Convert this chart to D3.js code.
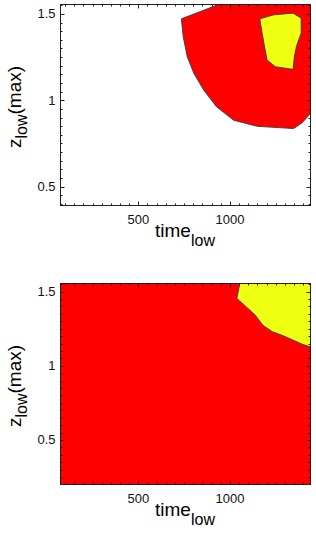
<!DOCTYPE html>
<html>
<head>
<meta charset="utf-8">
<script src="https://cdn.jsdelivr.net/npm/d3@7"></script>
<style>
  body { margin: 0; background: #fff; }
  svg { display: block; font-family: "Liberation Sans", Arial, sans-serif; }
</style>
</head>
<body>
<svg id="chart" width="316" height="534"></svg>
<script>
// Axis settings
const xDomain = [75, 1440];
const xMajorTicks = [500, 1000];
const yMajorTicks = [0.5, 1, 1.5];
const xTickLabels = ['500', '1000'];
const yTickLabels = ['0.5', '1', '1.5'];

// Top panel contours (time_low, z_low(max))
const topRedEdge = [[937, 1.555], [839, 1.514], [735, 1.472], [745, 1.369], [767, 1.2525],
  [803, 1.156], [857, 1.059], [927, 0.962], [1021, 0.884], [1149, 0.849], [1348, 0.836],
  [1394, 0.869], [1440, 0.923]];
const topYellow = [[1163, 1.472], [1239, 1.495], [1345, 1.505], [1389, 1.476], [1389, 1.389],
  [1363, 1.311], [1352, 1.2525], [1345, 1.179], [1249, 1.194], [1203, 1.233], [1189, 1.311],
  [1176, 1.389]];

// Bottom panel contour
const bottomYellowEdge = [[1054, 1.555], [1038, 1.454], [1090, 1.397], [1139, 1.341],
  [1180, 1.273], [1232, 1.230], [1292, 1.202], [1347, 1.172], [1396, 1.145], [1440, 1.127]];

const RED = '#ff0000';
const YELLOW = '#eeff11';
const EDGE = '#3a3a3a';

const svg = d3.select('#chart');

function drawPanel(cfg) {
  const x = d3.scaleLinear().domain(xDomain).range([60.5, 310.5]);
  const y = d3.scaleLinear().domain(cfg.yDomain).range([cfg.bottom, cfg.top]);
  const [x0, x1] = x.range();
  const [y0, y1] = y.range();
  const g = svg.append('g');

  const clipId = 'clip-' + cfg.id;
  g.append('clipPath').attr('id', clipId)
    .append('rect').attr('x', x0).attr('y', y1).attr('width', x1 - x0).attr('height', y0 - y1);

  const line = d3.line().x(d => x(d[0])).y(d => y(d[1]));
  const plot = g.append('g').attr('clip-path', `url(#${clipId})`);

  // fills
  if (cfg.background) {
    plot.append('rect')
      .attr('x', x(xDomain[0])).attr('y', y(cfg.yDomain[1]))
      .attr('width', x(xDomain[1]) - x(xDomain[0]))
      .attr('height', y(cfg.yDomain[0]) - y(cfg.yDomain[1]))
      .attr('fill', cfg.background);
  }
  cfg.regions.forEach(r => {
    const pts = r.corner ? r.edge.concat(r.corner) : r.edge;
    plot.append('path').attr('d', line(pts) + 'Z').attr('fill', r.fill).attr('stroke', 'none');
    plot.append('path').attr('d', line(r.edge) + (r.closed ? 'Z' : ''))
      .attr('fill', 'none').attr('stroke', EDGE).attr('stroke-width', 0.9);
  });

  // ticks (inward, all four sides)
  const ticks = g.append('g').attr('stroke', '#222').attr('stroke-width', 1);
  const xMinor = d3.range(100, xDomain[1] + 1, 50).filter(v => !xMajorTicks.includes(v));
  const yMinor = d3.range(0.05, 1.56, 0.05).map(v => +v.toFixed(2))
    .filter(v => v > cfg.yDomain[0] && v < cfg.yDomain[1] && !yMajorTicks.includes(v));
  const xt = (v, len) => {
    const px = Math.round(x(v)) + 0.5;
    ticks.append('line').attr('x1', px).attr('x2', px).attr('y1', y0).attr('y2', y0 - len);
    ticks.append('line').attr('x1', px).attr('x2', px).attr('y1', y1).attr('y2', y1 + len);
  };
  const yt = (v, len) => {
    const py = Math.round(y(v)) + 0.5;
    ticks.append('line').attr('y1', py).attr('y2', py).attr('x1', x0).attr('x2', x0 + len);
    ticks.append('line').attr('y1', py).attr('y2', py).attr('x1', x1).attr('x2', x1 - len);
  };
  xMinor.forEach(v => xt(v, 2));
  xMajorTicks.forEach(v => xt(v, 4));
  yMinor.forEach(v => yt(v, 2));
  yMajorTicks.forEach(v => yt(v, 4));

  // frame
  g.append('rect').attr('x', x0).attr('y', y1).attr('width', x1 - x0).attr('height', y0 - y1)
    .attr('fill', 'none').attr('stroke', '#222').attr('stroke-width', 1);

  // tick labels
  g.selectAll('.xl').data(xMajorTicks).join('text')
    .attr('x', d => x(d)).attr('y', y0 + 18.5)
    .attr('text-anchor', 'middle').attr('font-size', 13).attr('fill', '#111')
    .text((d, i) => xTickLabels[i]);
  g.selectAll('.yl').data(yMajorTicks).join('text')
    .attr('x', 55.5).attr('y', d => y(d) + 4.5)
    .attr('text-anchor', 'end').attr('font-size', 13).attr('fill', '#111')
    .text((d, i) => yTickLabels[i]);

  // axis titles
  const xt1 = g.append('text').attr('x', 185).attr('y', cfg.bottom + 31.5)
    .attr('text-anchor', 'middle').attr('font-size', 19).attr('fill', '#000');
  xt1.append('tspan').text('time');
  xt1.append('tspan').attr('font-size', 16).attr('dy', 9).text('low');

  const yc = (cfg.top + cfg.bottom) / 2 + 2;
  const yt1 = g.append('text').attr('transform', `translate(21,${yc}) rotate(-90)`)
    .attr('text-anchor', 'middle').attr('font-size', 19).attr('fill', '#000');
  yt1.append('tspan').text('z');
  yt1.append('tspan').attr('font-size', 16).attr('dy', 6).text('low');
  yt1.append('tspan').attr('dy', -6).text('(max)');
}

drawPanel({
  id: 'top', top: 4.5, bottom: 205.5, yDomain: [0.39, 1.555], background: null,
  regions: [
    { edge: topRedEdge, corner: [[1440, 1.555]], fill: RED },
    { edge: topYellow, closed: true, fill: YELLOW }
  ]
});

drawPanel({
  id: 'bottom', top: 283.5, bottom: 484.5, yDomain: [0.2, 1.555], background: RED,
  regions: [
    { edge: bottomYellowEdge, corner: [[1440, 1.555]], fill: YELLOW }
  ]
});
</script>
</body>
</html>
